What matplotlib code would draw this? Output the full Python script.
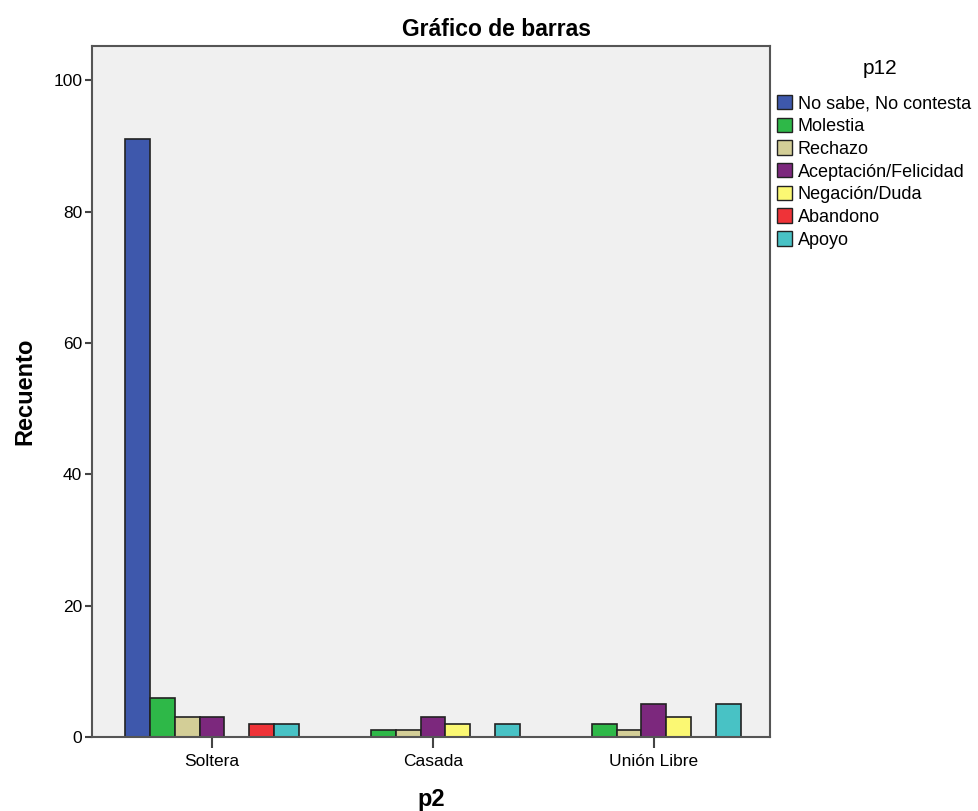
import matplotlib
matplotlib.use("Agg")
import matplotlib.pyplot as plt
import numpy as np

categorias = ["Soltera", "Casada", "Unión Libre"]
respuestas = ["No sabe, No contesta", "Molestia", "Rechazo", "Aceptación/Felicidad",
              "Negación/Duda", "Abandono", "Apoyo"]
colores = ["#3E58AC", "#2EB848", "#D3CE97", "#7C287D", "#FBF873", "#EF3338", "#48C2C5"]

no_sabe = [91, 0, 0]
molestia = [6, 1, 2]
rechazo = [3, 1, 1]
aceptacion = [3, 3, 5]
negacion = [0, 2, 3]
abandono = [2, 0, 0]
apoyo = [2, 2, 5]
series = [no_sabe, molestia, rechazo, aceptacion, negacion, abandono, apoyo]

plt.rcParams['font.family'] = ['Arial', 'Liberation Sans', 'DejaVu Sans']

fig = plt.figure(figsize=(9.79, 8.11), dpi=100)
ax = fig.add_axes([92/979, 74/811, 678/979, 691/811])
ax.set_facecolor("#F0F0F0")

x = np.arange(len(categorias))
w = 0.113
for i, (vals, col, lab) in enumerate(zip(series, colores, respuestas)):
    pos = x + (i - 3) * w
    ax.bar(pos, vals, width=w, color=col, edgecolor="#222222", linewidth=1.2, label=lab)

ax.set_xlim(-0.543, 2.525)
ax.set_ylim(0, 105.2)
ax.set_yticks([0, 20, 40, 60, 80, 100])
ax.set_xticks(x)
ax.set_xticklabels(categorias, fontsize=12.5)
ax.tick_params(axis='y', labelsize=12.5, length=5, width=1.5, color="#444444", pad=2)
ax.tick_params(axis='x', length=8, width=1.5, color="#444444", pad=4)
for s in ax.spines.values():
    s.set_color("#555555")
    s.set_linewidth(1.5)

ax.set_ylabel("Recuento", fontsize=17, fontweight="bold", va="center")
ax.yaxis.set_label_coords(-0.099, 0.5)
ax.set_xlabel("p2", fontsize=17, fontweight="bold", va="center")
ax.xaxis.set_label_coords(0.501, -0.091)
fig.text(497/979, 1 - 30/811, "Gráfico de barras", ha="center", va="center",
         fontsize=16.5, fontweight="bold")

fig.text(880/979, 1 - 68/811, "p12", ha="center", va="center", fontsize=15)
leg = fig.legend(loc="upper left", bbox_to_anchor=(777/979, 1 - 95/811), frameon=False,
                 fontsize=13, handlelength=0.85, handleheight=0.85, handletextpad=0.3,
                 labelspacing=0.29, borderaxespad=0, borderpad=0)
for h in leg.legend_handles:
    h.set_linewidth(1.0)

fig.savefig("out.png", dpi=100)
